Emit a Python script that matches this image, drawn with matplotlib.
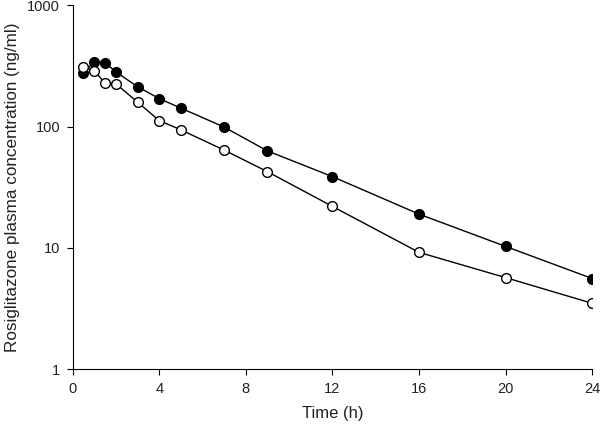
import matplotlib
matplotlib.use('Agg')
import matplotlib.pyplot as plt
from matplotlib.ticker import FixedLocator, FixedFormatter, NullLocator

plt.rcParams['font.family'] = ['Liberation Sans', 'DejaVu Sans']

# sampling times (h)
time_h = [0.5, 1, 1.5, 2, 3, 4, 5, 7, 9, 12, 16, 20, 24]
# filled circles
conc_filled = [277, 341, 336, 282, 213, 170, 142, 99, 63, 38.7, 19, 10.3, 5.6]
# open circles
conc_open = [310, 288, 228, 225, 159, 112, 94, 64, 42.5, 22, 9.2, 5.7, 3.5]

x_ticks = [0, 4, 8, 12, 16, 20, 24]
y_ticks = [1, 10, 100, 1000]
y_tick_labels = ['1', '10', '100', '1000']

fig = plt.figure(figsize=(6, 4.3), dpi=100)
ax = fig.add_axes([0.121, 0.141, 0.866, 0.847])

ax.plot(time_h, conc_filled, color='black', lw=1, marker='o', ms=7,
        mfc='black', mec='black', mew=1, zorder=3)
ax.plot(time_h, conc_open, color='black', lw=1, marker='o', ms=7,
        mfc='white', mec='black', mew=1, zorder=4)

ax.set_yscale('log')
ax.set_xlim(0, 24)
ax.set_ylim(1, 1000)
ax.xaxis.set_major_locator(FixedLocator(x_ticks))
ax.yaxis.set_major_locator(FixedLocator(y_ticks))
ax.yaxis.set_major_formatter(FixedFormatter(y_tick_labels))
ax.yaxis.set_minor_locator(NullLocator())

for side in ['top', 'right']:
    ax.spines[side].set_visible(False)
for side in ['left', 'bottom']:
    ax.spines[side].set_linewidth(0.8)
ax.tick_params(direction='out', length=4, width=0.8, labelsize=10.5,
               labelcolor='#222222', pad=5)

ax.set_xlabel('Time (h)', fontsize=12, labelpad=7, color='#222222')
ax.set_ylabel('Rosiglitazone plasma concentration (ng/ml)', fontsize=12.3,
              labelpad=5, color='#222222')

for lab in ax.get_xticklabels() + ax.get_yticklabels():
    lab.set_clip_on(False)

fig.savefig('out.png', dpi=100)
